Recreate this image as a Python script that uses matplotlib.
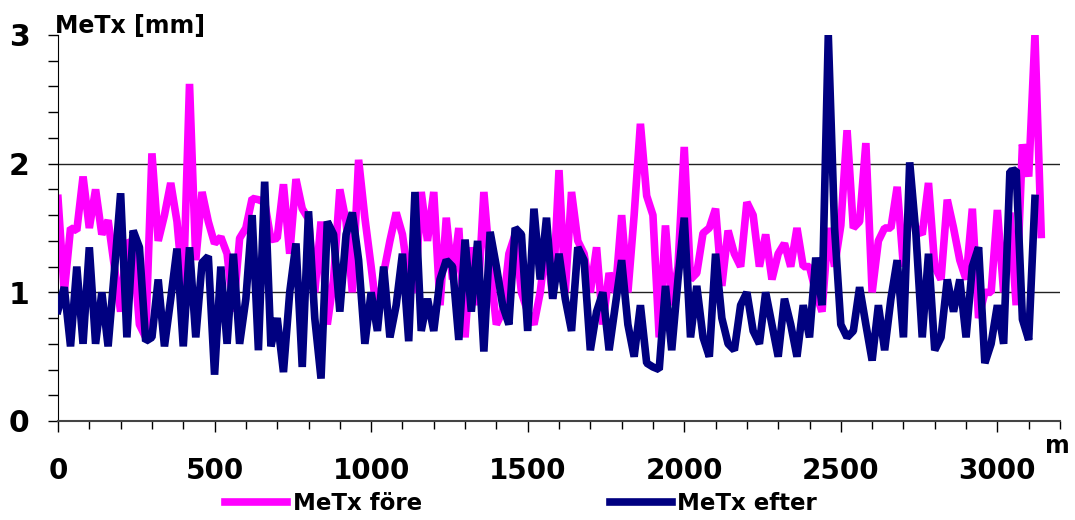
import numpy as np
import matplotlib
matplotlib.use("Agg")
import matplotlib.pyplot as plt
from matplotlib.ticker import MultipleLocator, FixedLocator

# distance along the track [m], one reading every 20 m
dist = np.arange(0, 3160, 20)

# MeTx before (före) [mm]
metx_fore = [
    1.73, 1.00, 1.50, 1.48, 1.90, 1.50, 1.80, 1.45, 1.56, 1.20,   # 0-180
    0.85, 1.40, 1.35, 0.75, 0.65, 2.08, 1.40, 1.60, 1.85, 1.55,   # 200-380
    1.00, 2.62, 1.25, 1.78, 1.55, 1.38, 1.43, 1.30, 0.85, 1.42,   # 400-580
    1.50, 1.73, 1.72, 1.70, 1.41, 1.42, 1.84, 1.30, 1.88, 1.65,   # 600-780
    1.57, 1.00, 1.55, 0.75, 1.10, 1.80, 1.55, 1.00, 2.03, 1.58,   # 800-980
    1.20, 0.80, 1.15, 1.40, 1.62, 1.45, 1.10, 1.00, 1.78, 1.40,   # 1000-1180
    1.78, 0.90, 1.58, 1.10, 1.50, 0.65, 1.35, 0.90, 1.78, 1.20,   # 1200-1380
    0.75, 0.85, 1.30, 1.45, 1.00, 0.85, 0.75, 1.00, 1.40, 0.95,   # 1400-1580
    1.95, 1.00, 1.78, 1.40, 1.30, 1.00, 1.35, 0.75, 1.15, 1.00,   # 1600-1780
    1.60, 1.00, 1.60, 2.31, 1.75, 1.60, 0.65, 1.52, 0.90, 1.20,   # 1800-1980
    2.13, 1.10, 1.15, 1.46, 1.50, 1.65, 1.05, 1.48, 1.30, 1.20,   # 2000-2180
    1.70, 1.60, 1.20, 1.45, 1.10, 1.30, 1.38, 1.20, 1.50, 1.20,   # 2200-2380
    1.20, 1.00, 0.85, 1.50, 1.20, 1.52, 2.26, 1.50, 1.55, 2.16,   # 2400-2580
    1.00, 1.40, 1.50, 1.50, 1.82, 1.20, 1.65, 1.50, 1.45, 1.85,   # 2600-2780
    1.20, 1.10, 1.72, 1.50, 1.25, 1.10, 1.65, 0.80, 1.00, 1.00,   # 2800-2980
    1.64, 1.00, 1.62, 0.90, 2.15, 1.90, 3.00, 1.45,               # 3000-3140
]

# MeTx after (efter) [mm]
metx_efter = [
    0.86, 1.04, 0.58, 1.20, 0.60, 1.35, 0.60, 1.00, 0.58, 1.16,   # 0-180
    1.77, 0.65, 1.48, 1.35, 0.62, 0.65, 1.10, 0.58, 0.95, 1.34,   # 200-380
    0.58, 1.35, 0.65, 1.23, 1.28, 0.36, 1.20, 0.60, 1.30, 0.60,   # 400-580
    0.95, 1.60, 0.55, 1.86, 0.58, 0.80, 0.38, 1.00, 1.38, 0.42,   # 600-780
    1.63, 0.80, 0.33, 1.55, 1.45, 0.85, 1.45, 1.62, 1.25, 0.60,   # 800-980
    1.00, 0.70, 1.20, 0.65, 0.90, 1.30, 0.62, 1.78, 0.70, 0.95,   # 1000-1180
    0.70, 1.10, 1.25, 1.20, 0.63, 1.41, 0.85, 1.40, 0.54, 1.47,   # 1200-1380
    1.20, 0.90, 0.75, 1.50, 1.45, 0.70, 1.65, 1.10, 1.58, 0.95,   # 1400-1580
    1.30, 0.95, 0.70, 1.35, 1.25, 0.55, 0.85, 1.00, 0.55, 0.90,   # 1600-1780
    1.25, 0.75, 0.50, 0.90, 0.45, 0.42, 0.40, 1.05, 0.55, 1.10,   # 1800-1980
    1.58, 0.65, 1.05, 0.65, 0.50, 1.30, 0.80, 0.60, 0.55, 0.90,   # 2000-2180
    1.00, 0.70, 0.60, 1.00, 0.75, 0.50, 0.95, 0.75, 0.50, 0.90,   # 2200-2380
    0.65, 1.27, 0.90, 3.00, 1.50, 0.75, 0.65, 0.70, 1.04, 0.75,   # 2400-2580
    0.47, 0.90, 0.55, 0.95, 1.25, 0.65, 2.01, 1.45, 0.65, 1.30,   # 2600-2780
    0.55, 0.65, 1.10, 0.85, 1.10, 0.65, 1.20, 1.35, 0.45, 0.60,   # 2800-2980
    0.90, 0.60, 1.94, 1.95, 0.79, 0.63, 1.73, np.nan,             # 3000-3140
]

grid_levels = [1, 2]
y_labels = ["0", "1", "2", "3"]

fig = plt.figure(figsize=(10.75, 5.2), dpi=100)
ax = fig.add_axes([58 / 1075, 1 - 421 / 520, 1002 / 1075, 386 / 520])

for g in grid_levels:
    ax.axhline(g, color="#222222", lw=1.0, zorder=1)

ax.plot(dist, metx_fore, color="#FF00FF", lw=5.5, solid_joinstyle="bevel",
        label="MeTx före", zorder=2)
ax.plot(dist, metx_efter, color="#000080", lw=5.5, solid_joinstyle="bevel",
        label="MeTx efter", zorder=3)

ax.set_xlim(0, 3200)
ax.set_ylim(0, 3)

ax.spines["top"].set_visible(False)
ax.spines["right"].set_visible(False)
ax.spines["left"].set_color("black")
ax.spines["bottom"].set_color("#444444")
ax.spines["bottom"].set_linewidth(1.5)

ax.xaxis.set_major_locator(MultipleLocator(500))
ax.xaxis.set_minor_locator(MultipleLocator(100))
ax.yaxis.set_major_locator(FixedLocator([0, 1, 2, 3]))
ax.yaxis.set_minor_locator(MultipleLocator(0.2))
ax.set_yticklabels(y_labels)

ax.tick_params(axis="x", which="major", direction="out", length=8, width=1,
               pad=18, labelsize=20)
ax.tick_params(axis="x", which="minor", direction="out", length=5.5, width=1)
ax.tick_params(axis="y", which="both", direction="out", length=7.5, width=1,
               pad=13, labelsize=21.5)
for lab in ax.get_xticklabels() + ax.get_yticklabels():
    lab.set_fontweight("bold")

fig.text(55 / 1075, 1 - 33 / 520, "MeTx [mm]", fontsize=17, fontweight="bold",
         va="baseline", ha="left")
fig.text(1045 / 1075, 1 - 453 / 520, "m", fontsize=17, fontweight="bold",
         va="baseline", ha="left")

fig.legend(loc="center", bbox_to_anchor=(521 / 1075, 1 - 504 / 520), ncol=2,
           frameon=False, prop={"weight": "bold", "size": 16.5},
           handlelength=2.7, handletextpad=0.25, columnspacing=8.2,
           borderaxespad=0, borderpad=0)

fig.savefig("out.png", dpi=100)
